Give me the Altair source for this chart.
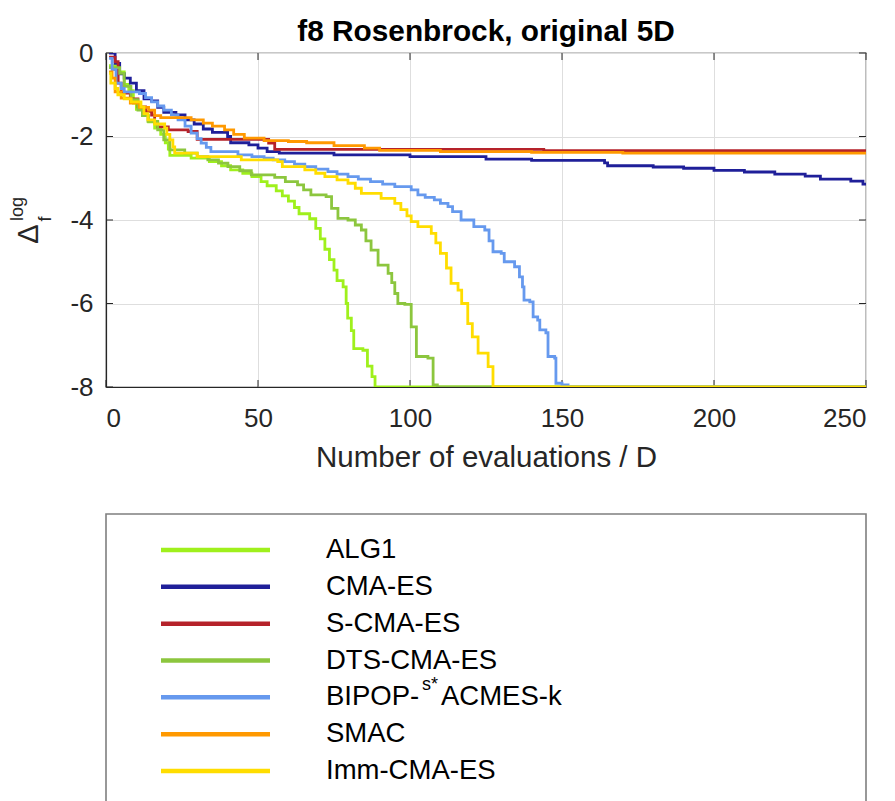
import altair as alt
import pandas as pd

FONT = "Liberation Sans"

# Series names, in drawing / legend order
names = ["ALG1", "CMA-ES", "S-CMA-ES", "DTS-CMA-ES", "BIPOP-s*ACMES-k", "SMAC", "Imm-CMA-ES"]
colors = ["#9ff01c", "#1f1f99", "#b5222a", "#8cc63e", "#6699ee", "#ff9900", "#ffdd00"]

# Staircase data: evaluations / D where the best value drops, and the new Delta_f (log10)
alg1_x = [1, 4, 6, 7.5, 9, 10, 12, 14, 16, 18, 19.5, 20.5, 21, 28, 34, 38, 41, 45, 48, 51, 53, 56, 58, 60, 62,
          63.5, 67, 69, 70.5, 72, 73.5, 75, 76, 78, 79, 79.5, 80.7, 81.5, 84.5, 86, 87.5, 88.5, 250]
alg1_y = [-0.3, -0.45, -0.75, -0.9, -1.2, -1.35, -1.5, -1.65, -1.8, -1.95, -2.15, -2.3, -2.45, -2.52, -2.6, -2.7,
          -2.8, -2.88, -2.96, -3.08, -3.18, -3.3, -3.42, -3.55, -3.7, -3.85, -3.97, -4.2, -4.45, -4.7, -4.95, -5.2,
          -5.45, -5.6, -6.0, -6.35, -6.65, -7.08, -7.12, -7.5, -7.75, -8, -8]

cma_x = [1, 3, 4.5, 6, 8, 10, 12.5, 15, 17, 19, 23, 26, 29, 32, 35, 40, 41, 47, 50, 53, 57, 75, 100, 125, 140,
         164, 165, 180, 190, 200, 210, 220, 230, 235, 245, 249, 250]
cma_y = [0.0, -0.25, -0.5, -0.6, -0.72, -0.9, -1.1, -1.15, -1.3, -1.42, -1.48, -1.6, -1.7, -1.82, -1.9, -2.0,
         -2.15, -2.2, -2.28, -2.36, -2.4, -2.44, -2.48, -2.54, -2.57, -2.63, -2.7, -2.73, -2.76, -2.81, -2.85,
         -2.9, -2.95, -3.02, -3.07, -3.14, -3.14]

scma_x = [1, 3, 4, 5, 8, 10.5, 13, 15, 16, 17, 20.5, 27, 30, 53.5, 55.5, 144, 250]
scma_y = [-0.1, -0.21, -0.72, -0.96, -1.1, -1.29, -1.4, -1.49, -1.65, -1.77, -1.84, -1.88, -2.07, -2.16, -2.31,
          -2.34, -2.34]

dts_x = [1, 4.5, 6, 8.2, 10.5, 12, 13.8, 17, 19, 21, 25.9, 30, 33.5, 37, 40.1, 44, 47.8, 55.5, 59, 63, 65, 67.4,
         72.4, 74.2, 76.3, 79.6, 82, 84, 85.5, 87.2, 89.5, 92.8, 94, 95, 96, 98.3, 100.4, 102.1, 105.9, 107.6, 109,
         250]
dts_y = [-0.35, -0.49, -0.8, -1.12, -1.37, -1.5, -1.64, -1.84, -2.08, -2.32, -2.4, -2.48, -2.56, -2.64, -2.72,
         -2.82, -2.92, -2.98, -3.08, -3.16, -3.28, -3.4, -3.44, -3.72, -3.96, -4.0, -4.12, -4.24, -4.5, -4.72,
         -5.08, -5.28, -5.5, -5.76, -6.0, -6.02, -6.56, -7.27, -7.31, -7.95, -8, -8]

bipop_x = [1, 2, 3.3, 5, 6, 11, 13, 15, 17, 19, 21.5, 23.7, 26, 28, 30, 31.3, 33, 34.5, 43.4, 48, 52, 55, 58.8,
           62, 65.4, 69, 73, 76, 79.6, 83, 87, 91, 95, 100.4, 102.6, 105, 108, 110, 112.5, 114, 116.8, 121, 124.6,
           126, 127.3, 130, 131, 134.4, 136, 137, 137.5, 139.4, 140.5, 142, 142.7, 144.7, 145.4, 147.6, 148, 150,
           152, 250]
bipop_y = [-0.13, -0.4, -0.72, -0.85, -0.93, -0.97, -1.07, -1.17, -1.27, -1.37, -1.48, -1.6, -1.75, -1.92, -2.05,
           -2.16, -2.26, -2.36, -2.44, -2.48, -2.52, -2.56, -2.6, -2.66, -2.72, -2.78, -2.84, -2.9, -2.96, -3.02,
           -3.08, -3.14, -3.2, -3.28, -3.4, -3.46, -3.52, -3.6, -3.68, -3.8, -4.0, -4.16, -4.24, -4.5, -4.76, -4.8,
           -5.0, -5.12, -5.36, -5.6, -5.92, -5.96, -6.32, -6.4, -6.63, -6.7, -7.27, -7.31, -7.91, -7.95, -8, -8]

smac_x = [1, 2, 3, 5, 8, 11, 14, 16, 18, 28, 32, 35, 39, 42, 45.5, 52, 60, 66, 75, 85, 90, 110, 140, 170, 250]
smac_y = [-0.45, -0.6, -0.93, -1.08, -1.2, -1.3, -1.37, -1.5, -1.55, -1.6, -1.68, -1.75, -1.84, -1.95, -2.04,
          -2.1, -2.12, -2.15, -2.22, -2.28, -2.33, -2.36, -2.38, -2.4, -2.4]

imm_x = [1, 1.6, 3, 3.9, 6, 8.3, 11.5, 12.5, 13.8, 16, 19.3, 20, 21, 22, 22.6, 30, 44.5, 56.5, 58, 65.4, 69, 72,
         76, 79.6, 82, 84, 90.5, 95, 97, 99, 100.4, 102.6, 107, 108.5, 110, 112, 113.5, 115.8, 117, 119, 120.5,
         122.4, 125.7, 127.3, 250]
imm_y = [-0.49, -0.72, -0.85, -1.0, -1.1, -1.17, -1.29, -1.45, -1.6, -1.7, -1.8, -1.95, -2.08, -2.25, -2.4, -2.48,
         -2.56, -2.6, -2.72, -2.8, -2.88, -2.96, -3.04, -3.12, -3.24, -3.36, -3.48, -3.6, -3.75, -3.9, -4.04, -4.16,
         -4.32, -4.55, -4.8, -5.15, -5.52, -5.68, -6.0, -6.48, -6.8, -7.19, -7.51, -8, -8]

series_x = [alg1_x, cma_x, scma_x, dts_x, bipop_x, smac_x, imm_x]
series_y = [alg1_y, cma_y, scma_y, dts_y, bipop_y, smac_y, imm_y]

x_ticks = [0, 50, 100, 150, 200, 250]
y_ticks = [-8, -6, -4, -2, 0]

W, H = 760, 334
AX = "#262626"

color_scale = alt.Scale(domain=names, range=colors)
x_scale = alt.Scale(domain=[0, 250], nice=False, zero=False)
y_scale = alt.Scale(domain=[-8, 0], nice=False, zero=False)

x_axis = alt.Axis(values=x_ticks, grid=True, gridColor="#dedede", gridWidth=1, tickSize=0, labelPadding=18,
                  labelFontSize=26, labelColor=AX, labelFont=FONT, domainColor=AX, domainWidth=1.2,
                  title="Number of evaluations / D", titleFont=FONT, titleFontSize=29.5,
                  titleFontWeight="normal", titleColor=AX, titlePadding=12)
y_axis = alt.Axis(values=y_ticks, grid=True, gridColor="#dedede", gridWidth=1, tickSize=0, labelPadding=13,
                  labelFontSize=26, labelColor=AX, labelFont=FONT, domainColor=AX, domainWidth=1.2,
                  labelExpr="toString(datum.value)", title=None)

layers = []
for i, name in enumerate(names):
    df = pd.DataFrame({"evals": series_x[i], "delta": series_y[i], "alg": name})
    layers.append(
        alt.Chart(df).mark_line(interpolate="step-after", strokeWidth=2.8, clip=True).encode(
            x=alt.X("evals:Q", scale=x_scale, axis=x_axis),
            y=alt.Y("delta:Q", scale=y_scale, axis=y_axis),
            color=alt.Color("alg:N", scale=color_scale, legend=None),
        )
    )

# inward tick marks on all four sides of the box
xt = pd.DataFrame({"evals": x_ticks})
yt = pd.DataFrame({"delta": y_ticks})
tick_style = dict(color=AX, strokeWidth=1)
ticks = [
    alt.Chart(xt).mark_rule(**tick_style).encode(x=alt.X("evals:Q"), y=alt.value(H), y2=alt.value(H - 7)),
    alt.Chart(xt).mark_rule(**tick_style).encode(x=alt.X("evals:Q"), y=alt.value(0), y2=alt.value(7)),
    alt.Chart(yt).mark_rule(**tick_style).encode(y=alt.Y("delta:Q"), x=alt.value(0), x2=alt.value(7)),
    alt.Chart(yt).mark_rule(**tick_style).encode(y=alt.Y("delta:Q"), x=alt.value(W), x2=alt.value(W - 7)),
]

# y-axis title: Delta with subscript f and superscript log, rotated
ylab = pd.DataFrame({"t": ["Δ", "f", "log"]})
y_title = [
    alt.Chart(ylab).transform_filter(alt.datum.t == "Δ").mark_text(
        angle=270, font=FONT, fontSize=29, color=AX, align="center", baseline="middle"
    ).encode(text="t:N", x=alt.value(-77), y=alt.value(181)),
    alt.Chart(ylab).transform_filter(alt.datum.t == "f").mark_text(
        angle=270, font=FONT, fontSize=18, color=AX, align="center", baseline="middle"
    ).encode(text="t:N", x=alt.value(-60), y=alt.value(166)),
    alt.Chart(ylab).transform_filter(alt.datum.t == "log").mark_text(
        angle=270, font=FONT, fontSize=18, color=AX, align="center", baseline="middle"
    ).encode(text="t:N", x=alt.value(-88), y=alt.value(156)),
]

main = alt.layer(*ticks, *layers, *y_title).properties(
    width=W, height=H,
    title=alt.Title("f8 Rosenbrock, original 5D", font=FONT, fontSize=29.8, fontWeight="bold",
                    color="black", offset=-7, anchor="middle"),
    view=alt.ViewBackground(stroke=AX, strokeWidth=1.2),
)

# legend panel
pre = ["ALG1", "CMA-ES", "S-CMA-ES", "DTS-CMA-ES", "BIPOP-", "SMAC", "Imm-CMA-ES"]
sup = ["", "", "", "", "s*", "", ""]
post = ["", "", "", "", "ACMES-k", "", ""]
leg = pd.DataFrame({"alg": names, "pre": pre, "sup": sup, "post": post})
row = alt.Y("alg:N", sort=names, axis=None, scale=alt.Scale(type="point", range=[36, 257], padding=0))

leg_lines = alt.Chart(leg).mark_rule(strokeWidth=4.5).encode(
    y=row, x=alt.value(55), x2=alt.value(164),
    color=alt.Color("alg:N", scale=color_scale, legend=None),
)
leg_text = alt.Chart(leg).mark_text(font=FONT, fontSize=27.5, color="black", align="left",
                                     baseline="middle").encode(y=row, x=alt.value(220), text="pre:N")
leg_sup = alt.Chart(leg).mark_text(font=FONT, fontSize=18, color="black", align="left", baseline="middle",
                                    dy=-12).encode(y=row, x=alt.value(316), text="sup:N")
leg_post = alt.Chart(leg).mark_text(font=FONT, fontSize=27.5, color="black", align="left",
                                     baseline="middle").encode(y=row, x=alt.value(335), text="post:N")

legend = alt.layer(leg_lines, leg_text, leg_sup, leg_post).properties(
    width=W, height=300,
    view=alt.ViewBackground(stroke="#7f7f7f", strokeWidth=1.6),
)

chart = alt.vconcat(main, legend, spacing=127, bounds="flush").properties(
    padding={"left": 8, "top": 16, "right": 0, "bottom": 0},
).configure(background="white")

chart.save("out.html", embed_options={"renderer": "svg", "actions": False})
